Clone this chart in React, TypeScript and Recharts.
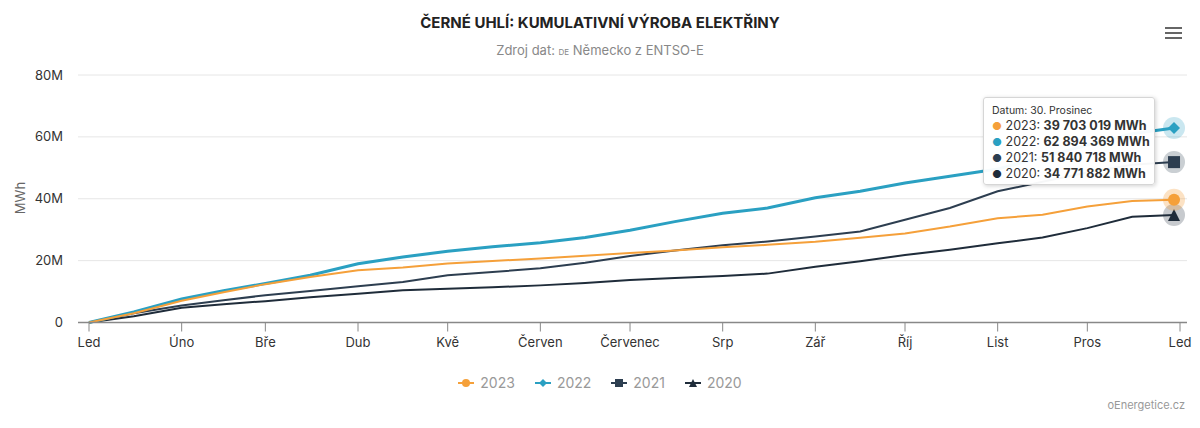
import { CartesianGrid, Line, LineChart, XAxis, YAxis } from "recharts";

const FONT = "Inter, 'Open Sans', sans-serif";

// day of year (0 = 1. leden) for each sample
const days = [0, 15, 31, 45, 59, 74, 90, 105, 120, 135, 151, 166, 181, 196, 212, 227, 243, 258, 273, 288, 304, 319, 334, 349, 363];

// cumulative output, millions of MWh
const y2023 = [0, 3.0, 7.0, 9.8, 12.4, 14.7, 16.9, 17.8, 19.1, 19.9, 20.7, 21.6, 22.5, 23.3, 24.3, 25.1, 26.1, 27.4, 28.8, 31.0, 33.7, 34.8, 37.5, 39.3, 39.703019];
const y2022 = [0, 3.4, 7.6, 10.3, 12.6, 15.3, 19.0, 21.2, 23.0, 24.5, 25.8, 27.5, 29.8, 32.6, 35.3, 37.0, 40.3, 42.4, 45.1, 47.3, 49.6, 53.5, 57.3, 61.0, 62.894369];
const y2021 = [0, 3.0, 5.5, 7.2, 8.8, 10.2, 11.7, 13.1, 15.3, 16.3, 17.5, 19.3, 21.5, 23.3, 25.0, 26.2, 27.8, 29.4, 33.2, 37.0, 42.4, 45.5, 48.5, 51.0, 51.840718];
const y2020 = [0, 2.0, 4.8, 5.9, 6.9, 8.2, 9.3, 10.4, 10.9, 11.4, 12.0, 12.8, 13.7, 14.4, 15.0, 15.8, 18.0, 19.8, 21.8, 23.5, 25.6, 27.5, 30.5, 34.2, 34.771882];

const monthTicks = [0, 31, 59, 90, 120, 151, 181, 212, 243, 273, 304, 334, 365];
const monthLabels = ["Led", "Úno", "Bře", "Dub", "Kvě", "Červen", "Červenec", "Srp", "Zář", "Říj", "List", "Pros", "Led"];
const yTicks = [0, 20, 40, 60, 80];

const years = ["2023", "2022", "2021", "2020"];
const colors = ["#f5a03a", "#2aa0c2", "#2d3e50", "#1f2c3a"];
const shapes = ["circle", "diamond", "square", "triangle"];
const widths = [2, 3, 2, 2];
const halos = ["rgba(245,160,58,0.3)", "rgba(42,160,194,0.25)", "rgba(45,62,80,0.25)", "rgba(31,44,58,0.25)"];
const finals = [39703019, 62894369, 51840718, 34771882];

const data = days.map((d, i) => ({
  day: d,
  "2023": y2023[i],
  "2022": y2022[i],
  "2021": y2021[i],
  "2020": y2020[i],
}));

const fmt = (n: number) => n.toString().replace(/\B(?=(\d{3})+(?!\d))/g, " ");

function Marker({ shape, color, cx, cy, s = 5 }: { shape: string; color: string; cx: number; cy: number; s?: number }) {
  if (shape === "circle") return <circle cx={cx} cy={cy} r={s} fill={color} />;
  if (shape === "diamond")
    return <path d={`M${cx},${cy - s} L${cx + s},${cy} L${cx},${cy + s} L${cx - s},${cy} Z`} fill={color} />;
  if (shape === "square") return <rect x={cx - s} y={cy - s} width={s * 2} height={s * 2} fill={color} />;
  return <path d={`M${cx},${cy - s} L${cx + s},${cy + s} L${cx - s},${cy + s} Z`} fill={color} />;
}

function endDot(i: number) {
  return (p: any) => {
    if (p.index !== days.length - 1) return <g key={`d${i}-${p.index}`} />;
    return (
      <g key={`d${i}-${p.index}`}>
        <circle cx={p.cx} cy={p.cy} r={11} fill={halos[i]} />
        <Marker shape={shapes[i]} color={colors[i]} cx={p.cx} cy={p.cy} s={6} />
      </g>
    );
  };
}

export default function App() {
  return (
    <div style={{ position: "absolute", left: 0, top: 0, width: 1200, height: 428, background: "#fff", fontFamily: FONT }}>
      <div style={{ position: "absolute", top: 13, width: 1200, textAlign: "center", fontSize: 15, fontWeight: 700, color: "#222" }}>
        ČERNÉ UHLÍ: KUMULATIVNÍ VÝROBA ELEKTŘINY
      </div>
      <div style={{ position: "absolute", top: 42, width: 1200, textAlign: "center", fontSize: 13, color: "#888" }}>
        Zdroj dat: <span style={{ fontSize: 8 }}>DE</span> Německo z ENTSO-E
      </div>
      <div style={{ position: "absolute", left: 1165, top: 27, width: 17 }}>
        {[0, 1, 2].map((k) => (
          <div key={k} style={{ height: 2, background: "#666", marginBottom: 3 }} />
        ))}
      </div>
      <div
        style={{
          position: "absolute",
          left: 20,
          top: 198,
          transform: "translate(-50%, -50%) rotate(-90deg)",
          fontSize: 13,
          color: "#666",
        }}
      >
        MWh
      </div>

      <LineChart width={1200} height={428} data={data} margin={{ top: 75, right: 13, bottom: 75.5, left: 18 }}>
        <CartesianGrid vertical={false} stroke="#e6e6e6" />
        <XAxis
          dataKey="day"
          type="number"
          domain={[0, 365]}
          ticks={monthTicks}
          tickFormatter={(v: number) => monthLabels[monthTicks.indexOf(v)]}
          padding={{ left: 11, right: 7 }}
          height={30}
          tickSize={9}
          tickMargin={6}
          interval={0}
          axisLine={{ stroke: "#888", strokeWidth: 1.5 }}
          tickLine={{ stroke: "#888" }}
          tick={{ fontSize: 13, fill: "#333", fontFamily: FONT }}
        />
        <YAxis
          width={60}
          domain={[0, 80]}
          ticks={yTicks}
          tickFormatter={(v: number) => (v === 0 ? "0" : `${v}M`)}
          axisLine={false}
          tickLine={false}
          tickSize={0}
          tickMargin={15}
          tick={{ fontSize: 13, fill: "#333", fontFamily: FONT }}
        />
        {years
          .map((y, i) => ({ y, i }))
          .reverse()
          .map(({ y, i }) => (
            <Line
              key={y}
              dataKey={y}
              type="linear"
              stroke={colors[i]}
              strokeWidth={widths[i]}
              dot={endDot(i)}
              activeDot={false}
              isAnimationActive={false}
            />
          ))}
      </LineChart>

      <div
        style={{
          position: "absolute",
          left: 983,
          top: 97,
          width: 172,
          height: 88,
          background: "rgba(255,255,255,0.96)",
          border: "1px solid #d6d6d6",
          borderRadius: 3,
          boxShadow: "1px 1px 4px rgba(0,0,0,0.18)",
          boxSizing: "border-box",
          padding: "6px 8px",
          color: "#333",
        }}
      >
        <div style={{ fontSize: 10.5, marginBottom: 1 }}>Datum: 30. Prosinec</div>
        {years.map((y, i) => (
          <div key={y} style={{ fontSize: 12.5, lineHeight: "15px", whiteSpace: "nowrap" }}>
            <span style={{ color: colors[i], fontSize: 11 }}>●</span> {y}: <b>{fmt(finals[i])} MWh</b>
          </div>
        ))}
      </div>

      <div style={{ position: "absolute", top: 374, width: 1200, display: "flex", justifyContent: "center", gap: 20 }}>
        {years.map((y, i) => (
          <div key={y} style={{ display: "flex", alignItems: "center", gap: 6, fontSize: 14, color: "#999" }}>
            <svg width={16} height={12}>
              <line x1={0} y1={6} x2={16} y2={6} stroke={colors[i]} strokeWidth={2} />
              <Marker shape={shapes[i]} color={colors[i]} cx={8} cy={6} s={4} />
            </svg>
            {y}
          </div>
        ))}
      </div>

      <div style={{ position: "absolute", right: 15, top: 398, fontSize: 11, color: "#999" }}>oEnergetice.cz</div>
    </div>
  );
}
